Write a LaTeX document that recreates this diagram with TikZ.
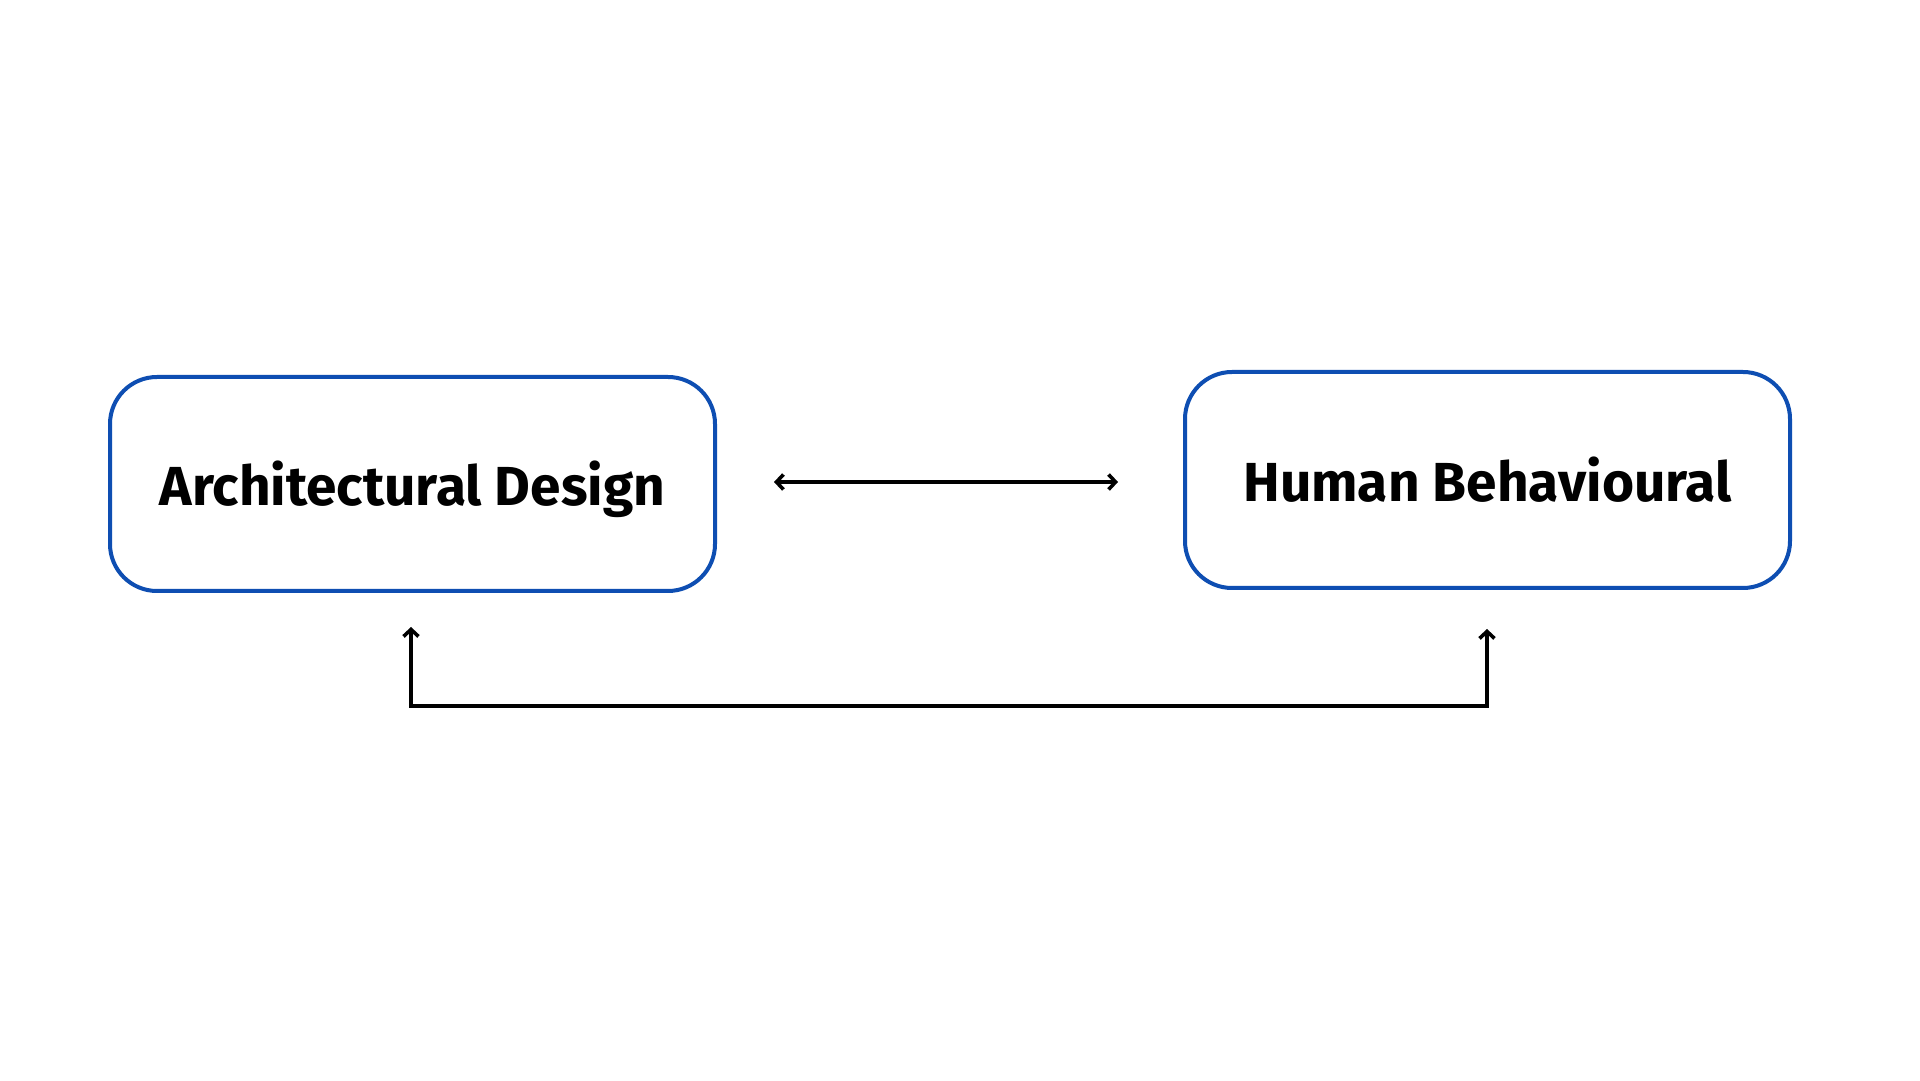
\documentclass[tikz,border=0pt]{standalone}
\usepackage{fontspec}
\setmainfont{Fira Sans}
\usetikzlibrary{arrows.meta,calc}
\definecolor{boxblue}{RGB}{14,78,178}
\tikzset{
  conceptbox/.style={draw=boxblue, line width=4pt, rounded corners=47pt, minimum width=605pt, minimum height=214pt, inner sep=0pt, font=\fontsize{55}{66}\selectfont\bfseries, text=black},
  linkarrow/.style={draw=black, line width=3.8pt, {Straight Barb[length=7pt,width=15pt,line width=3.6pt]}-{Straight Barb[length=7pt,width=15pt,line width=3.6pt]}}
}
\begin{document}
\begin{tikzpicture}[x=1pt,y=1pt]
\useasboundingbox[fill=white] (0,0) rectangle (1920,1080);
\node[conceptbox] (a) at (412.5,596) {\raisebox{-5pt}[\height][\depth]{Architectural Design}};
\node[conceptbox, minimum height=216pt] (b) at (1487.5,600) {Human Behavioural};
\coordinate (h1) at (774,598);
\coordinate (h2) at (1118,598);
\draw[linkarrow] (h1) -- (h2);
\coordinate (t1) at (411,453);
\coordinate (t2) at (1487,451);
\draw[linkarrow] (t1) -- (411,374) -- (1487,374) -- (t2);
\end{tikzpicture}
\end{document}
